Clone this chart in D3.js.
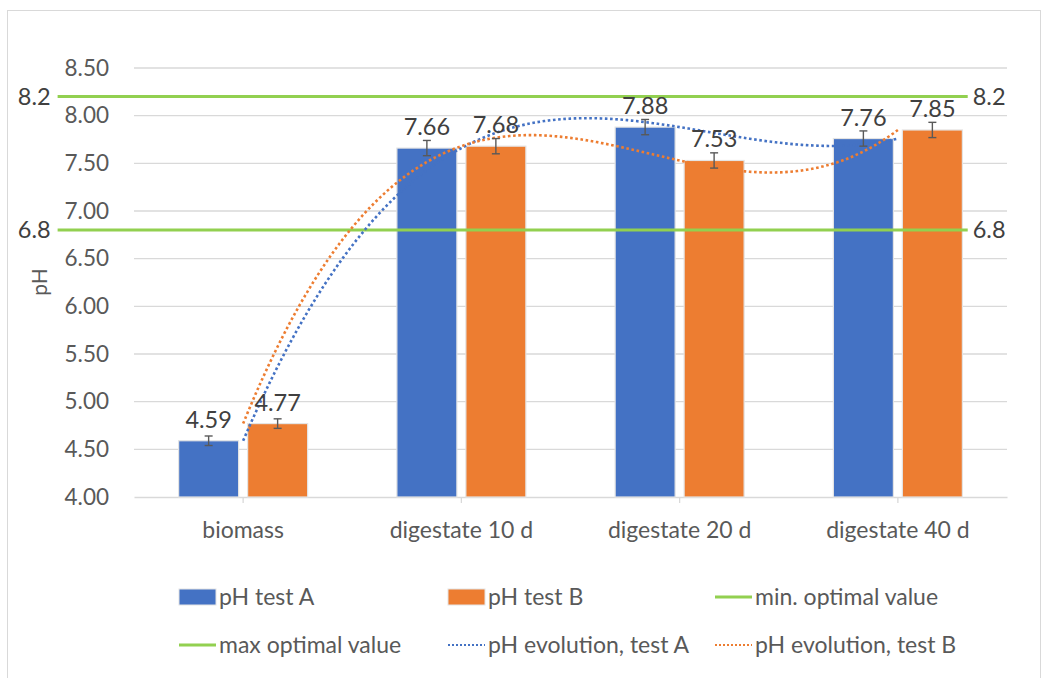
<!DOCTYPE html>
<html>
<head>
<meta charset="utf-8">
<script src="https://cdn.jsdelivr.net/npm/d3@7"></script>
<style>
  html, body { margin: 0; padding: 0; background: #fff; }
  svg { display: block; font-family: Lato, "Open Sans", sans-serif; }
</style>
</head>
<body>
<svg id="chart" width="1044" height="678"></svg>
<script>
// ---- data ----
const categories = ["biomass", "digestate 10 d", "digestate 20 d", "digestate 40 d"];
const phTestA = [4.59, 7.66, 7.88, 7.76];
const phTestB = [4.77, 7.68, 7.53, 7.85];
const errTestA = [0.05, 0.08, 0.08, 0.08];
const errTestB = [0.05, 0.08, 0.08, 0.08];
const minOptimal = 6.8;
const maxOptimal = 8.2;
const yTicks = [4.0, 4.5, 5.0, 5.5, 6.0, 6.5, 7.0, 7.5, 8.0, 8.5];
const legendLabels = ["pH test A", "pH test B", "min. optimal value", "max optimal value", "pH evolution, test A", "pH evolution, test B"];

// ---- layout ----
const W = 1044, H = 678;
const plot = { left: 134, right: 1007, top: 68, bottom: 497 };
const colA = "#4472C4", colB = "#ED7D31", colG = "#92D050";
const textCol = "#595959";

const svg = d3.select("#chart");

// chart area border
svg.append("rect").attr("x", 7.5).attr("y", 10.5).attr("width", 1033).attr("height", 680)
  .attr("fill", "#fff").attr("stroke", "#d9d9d9").attr("stroke-width", 1);

const x = d3.scaleBand().domain(categories).range([plot.left, plot.right]).padding(0);
const xSub = d3.scaleBand().domain(["A", "B"]).range([0, x.bandwidth()])
  .paddingInner(0.1304).paddingOuter(0.647);
const y = d3.scaleLinear().domain([4, 8.5]).range([plot.bottom, plot.top]);
// continuous category position (1 = first category centre)
const xc = d3.scaleLinear().domain([0.5, categories.length + 0.5]).range([plot.left, plot.right]);

// gridlines
svg.append("g").selectAll("line").data(yTicks.filter(d => d > 4)).join("line")
  .attr("x1", plot.left).attr("x2", plot.right)
  .attr("y1", d => y(d)).attr("y2", d => y(d))
  .attr("stroke", "#d9d9d9").attr("stroke-width", 1.3);

// y axis (labels only)
const yAxis = svg.append("g").attr("transform", `translate(${plot.left},0)`)
  .call(d3.axisLeft(y).tickValues(yTicks).tickFormat(d3.format(".2f")).tickSize(0).tickPadding(25));
yAxis.select(".domain").remove();
yAxis.selectAll("text").attr("fill", textCol).style("font-size", "22.5px").style("font-family", "Lato");

// x axis
const xAxis = svg.append("g").attr("transform", `translate(0,${plot.bottom})`)
  .call(d3.axisBottom(x).tickSizeInner(6).tickSizeOuter(0).tickPadding(19));
xAxis.select(".domain").attr("stroke", "#d9d9d9").attr("stroke-width", 1.3);
xAxis.selectAll(".tick line").attr("stroke", "#d9d9d9").attr("stroke-width", 1.3);
xAxis.selectAll("text").attr("fill", textCol).style("font-size", "23px").style("font-family", "Lato");

// y title
svg.append("text").attr("transform", `translate(47,282) rotate(-90)`)
  .attr("text-anchor", "middle").attr("fill", textCol).style("font-size", "21px").text("pH");

// bars
const series = [
  { key: "A", values: phTestA, err: errTestA, color: colA },
  { key: "B", values: phTestB, err: errTestB, color: colB }
];
const barsG = svg.append("g");
series.forEach(s => {
  barsG.selectAll(null).data(categories).join("rect")
    .attr("x", (c) => x(c) + xSub(s.key))
    .attr("width", xSub.bandwidth())
    .attr("y", (c, i) => y(s.values[i]))
    .attr("height", (c, i) => y(4) - y(s.values[i]))
    .attr("fill", s.color).attr("stroke", "#e4e4e4").attr("stroke-width", 1.2);
});

// optimal lines (extend beyond the plot, as in the original)
const lineExtent = [0.15, 4.32];
const optimal = [maxOptimal, minOptimal];
svg.append("g").selectAll("line").data(optimal).join("line")
  .attr("x1", xc(lineExtent[0])).attr("x2", xc(lineExtent[1]))
  .attr("y1", d => y(d)).attr("y2", d => y(d))
  .attr("stroke", colG).attr("stroke-width", 3);
svg.append("g").selectAll("text").data(optimal).join("text")
  .attr("x", xc(lineExtent[0]) - 7).attr("y", d => y(d)).attr("dy", "0.35em")
  .attr("text-anchor", "end").attr("fill", "#404040").style("font-size", "23.5px")
  .text(d => d3.format(".1f")(d));
svg.append("g").selectAll("text").data(optimal).join("text")
  .attr("x", xc(lineExtent[1]) + 5).attr("y", d => y(d)).attr("dy", "0.35em")
  .attr("text-anchor", "start").attr("fill", "#404040").style("font-size", "23.5px")
  .text(d => d3.format(".1f")(d));

// polynomial trendlines (order 3 fit through the series, Excel-style)
function polyTrend(vals) {
  const n = vals.length;
  const xs = vals.map((v, i) => i + 1);
  return t => {
    let s = 0;
    for (let i = 0; i < n; i++) {
      let l = 1;
      for (let j = 0; j < n; j++) if (j !== i) l *= (t - xs[j]) / (xs[i] - xs[j]);
      s += vals[i] * l;
    }
    return s;
  };
}
const tSamples = d3.range(1, categories.length + 0.0001, 0.02);
const trendLine = d3.line().x(d => xc(d[0])).y(d => y(d[1]));
[{ vals: phTestA, color: colA }, { vals: phTestB, color: colB }].forEach(s => {
  const f = polyTrend(s.vals);
  svg.append("path").datum(tSamples.map(t => [t, f(t)]))
    .attr("d", trendLine).attr("fill", "none")
    .attr("stroke", s.color).attr("stroke-width", 2.6).attr("stroke-dasharray", "2.6 2.6");
});

// error bars
series.forEach(s => {
  const g = svg.append("g").attr("stroke", "#595959").attr("stroke-width", 1.4);
  categories.forEach((c, i) => {
    const cx = x(c) + xSub(s.key) + xSub.bandwidth() / 2;
    const y1 = y(s.values[i] + s.err[i]), y2 = y(s.values[i] - s.err[i]);
    g.append("line").attr("x1", cx).attr("x2", cx).attr("y1", y1).attr("y2", y2);
    g.append("line").attr("x1", cx - 4).attr("x2", cx + 4).attr("y1", y1).attr("y2", y1);
    g.append("line").attr("x1", cx - 4).attr("x2", cx + 4).attr("y1", y2).attr("y2", y2);
  });
});

// data labels
series.forEach(s => {
  svg.append("g").selectAll("text").data(categories).join("text")
    .attr("x", c => x(c) + xSub(s.key) + xSub.bandwidth() / 2)
    .attr("y", (c, i) => y(s.values[i]) - 13)
    .attr("text-anchor", "middle").attr("fill", "#404040").style("font-size", "23.5px")
    .text((c, i) => d3.format(".2f")(s.values[i]));
});

// legend
const legendItems = [
  { label: legendLabels[0], type: "rect", color: colA, col: 0, row: 0 },
  { label: legendLabels[1], type: "rect", color: colB, col: 1, row: 0 },
  { label: legendLabels[2], type: "line", color: colG, col: 2, row: 0 },
  { label: legendLabels[3], type: "line", color: colG, col: 0, row: 1 },
  { label: legendLabels[4], type: "dot", color: colA, col: 1, row: 1 },
  { label: legendLabels[5], type: "dot", color: colB, col: 2, row: 1 }
];
const legCols = [179, 448, 715], legRows = [597, 645];
const lg = svg.append("g");
legendItems.forEach(it => {
  const lx = legCols[it.col], ly = legRows[it.row];
  if (it.type === "rect") {
    lg.append("rect").attr("x", lx).attr("y", ly - 8).attr("width", 37).attr("height", 16)
      .attr("fill", it.color).attr("stroke", "#e4e4e4").attr("stroke-width", 1);
  } else {
    lg.append("line").attr("x1", lx).attr("x2", lx + 37).attr("y1", ly).attr("y2", ly)
      .attr("stroke", it.color).attr("stroke-width", it.type === "line" ? 3 : 2.2)
      .attr("stroke-dasharray", it.type === "dot" ? "2 2" : null);
  }
  lg.append("text").attr("x", lx + 40).attr("y", ly).attr("dy", "0.35em")
    .attr("fill", textCol).style("font-size", "23px").text(it.label);
});
</script>
</body>
</html>
